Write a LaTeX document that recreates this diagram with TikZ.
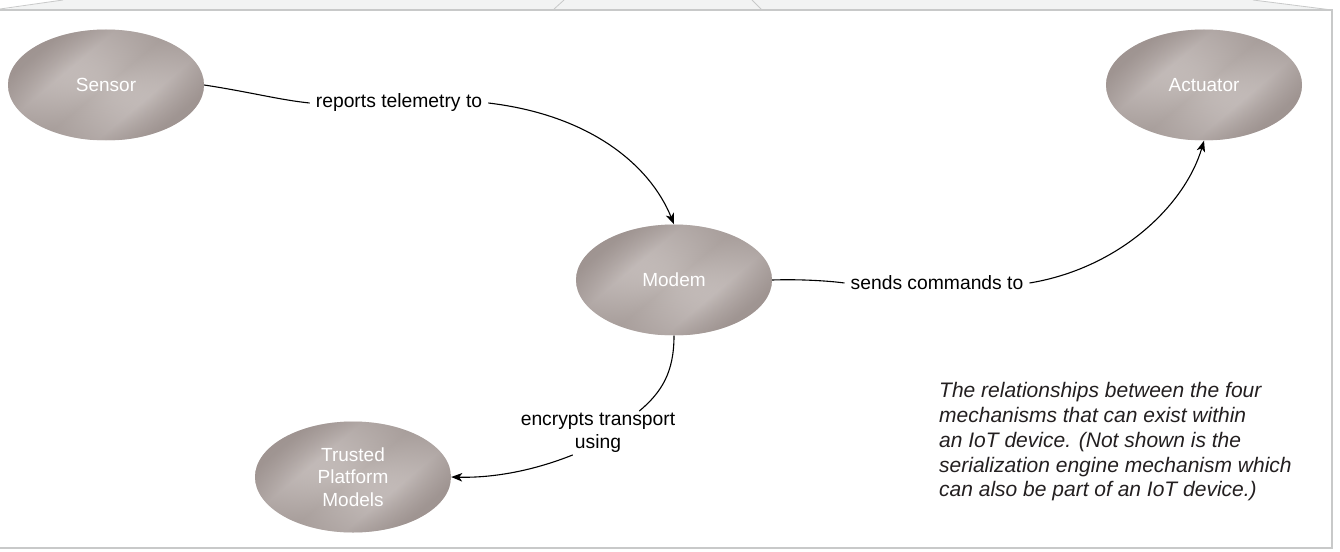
\documentclass[tikz,border=0pt]{standalone}
\usepackage{fontspec}
\setmainfont{Liberation Sans}
\usetikzlibrary{shapes.geometric,arrows.meta,fadings}
\definecolor{ovdk}{RGB}{170,160,157}
\definecolor{ovmd}{RGB}{190,182,179}
\definecolor{ovlt}{RGB}{209,202,200}
\definecolor{ovedge}{RGB}{150,139,136}
\definecolor{framefill}{RGB}{242,243,243}
\definecolor{frameline}{RGB}{200,201,201}
\definecolor{captext}{RGB}{35,31,32}
\pgfdeclarehorizontalshading{mottle}{100bp}{color(0bp)=(ovdk); color(27bp)=(ovdk); color(38bp)=(ovlt); color(50bp)=(ovmd); color(62bp)=(ovlt); color(73bp)=(ovdk); color(100bp)=(ovdk)}
\tikzfading[name=vignette, inner color=transparent!100, outer color=transparent!45]
\begin{document}
\begin{tikzpicture}[x=1pt,y=-1pt,
  mech/.style={ellipse, minimum width=196pt, minimum height=111pt, inner sep=0pt,
    shading=mottle, shading angle=130, text=white, align=center,
    font=\fontsize{19}{22.5}\selectfont,
    path picture={\fill[ovedge, path fading=vignette]
      (path picture bounding box.south west) rectangle (path picture bounding box.north east);}},
  rel/.style={font=\fontsize{19.3}{23}\selectfont, inner xsep=6pt, inner ysep=2pt, align=center},
  conn/.style={line width=1.1pt, black},
  arr/.style={conn, -{Stealth[length=11pt,width=8.5pt,inset=3pt]}},
  caption/.style={font=\fontsize{21}{24.75}\selectfont\itshape, text=captext, align=left, inner sep=0pt},
  rim/.style={draw=frameline, line width=1.5pt},
  fold/.style={draw=frameline, line width=0.8pt}]
\useasboundingbox (0,0) rectangle (1340,551);
% frame
\fill[framefill] (0,10) -- (63,0) -- (1253,0) -- (1332,10) -- cycle;
\draw[fold] (0,9) -- (63,0);
\draw[fold] (553,10) -- (564,0);
\draw[fold] (762,10) -- (752,0);
\draw[fold] (1253,0) -- (1332,10);
\draw[rim] (0,10) -- (1332,10) -- (1332,548) -- (0,548);
% mechanisms
\node[mech] (sensor) at (106,85) {Sensor};
\node[mech] (actuator) at (1204,85) {Actuator};
\node[mech] (modem) at (674,280) {Modem};
\node[mech] (tpm) at (353,477) {Trusted\\Platform\\Models};
% relation labels
\node[rel] (l1) at (399,103) {reports telemetry to};
\node[rel] (l2) at (937,283) {sends commands to};
\node[rel] (l3) at (598,433) {encrypts transport\\using};
% connectors
\draw[conn] (sensor.east) .. controls (250,92) and (280,100) .. (l1.west);
\draw[arr] (l1.east) .. controls (590,115) and (650,165) .. (modem.north);
\draw[conn] (modem.east) .. controls (800,279) and (830,281) .. (l2.west);
\draw[arr] (l2.east) .. controls (1120,268) and (1185,205) .. (actuator.south);
\draw[conn] (modem.south) .. controls (674,372) and (662,392) .. (l3.28);
\draw[arr] (l3.221) .. controls (530,472) and (490,478) .. (tpm.east);
% caption
\node[caption, anchor=north west] (cap) at (939,382.5) {The relationships between the four\\mechanisms that can exist within\\an IoT device. (Not shown is the\\serialization engine mechanism which\\can also be part of an IoT device.)};
\end{tikzpicture}
\end{document}
